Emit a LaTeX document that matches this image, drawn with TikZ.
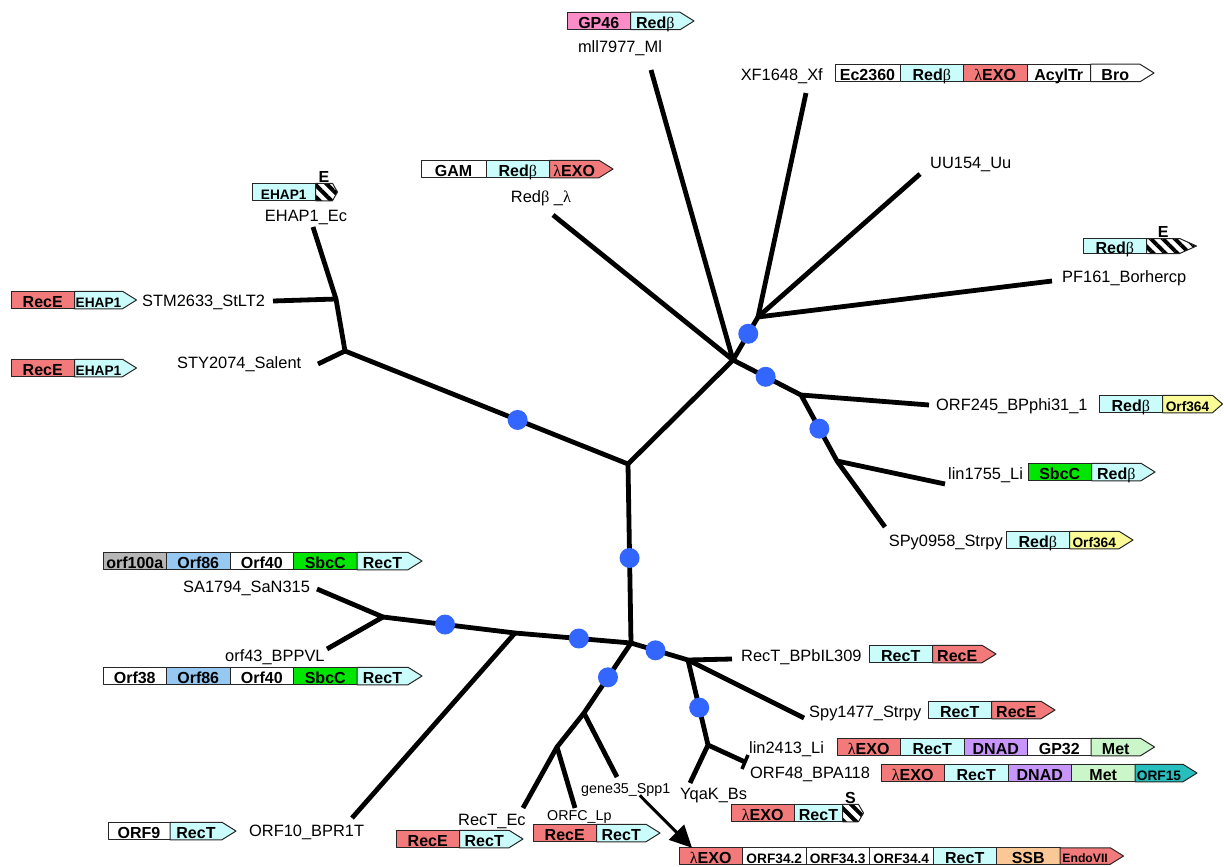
\documentclass[tikz,border=0pt]{standalone}
\usepackage{fontspec}
\setmainfont{Liberation Sans}
\newfontfamily\grk{Liberation Serif}
\usetikzlibrary{positioning,shapes.symbols,patterns.meta,arrows.meta}
\definecolor{cRed}{RGB}{243,122,122}
\definecolor{cCyan}{RGB}{202,252,252}
\definecolor{cPink}{RGB}{250,140,200}
\definecolor{cGreen}{RGB}{0,230,0}
\definecolor{cGrey}{RGB}{182,182,182}
\definecolor{cLtBlue}{RGB}{150,200,242}
\definecolor{cYellow}{RGB}{250,250,150}
\definecolor{cPurple}{RGB}{200,150,250}
\definecolor{cLtGreen}{RGB}{202,246,202}
\definecolor{cTeal}{RGB}{40,190,190}
\definecolor{cOrange}{RGB}{250,200,150}
\definecolor{cDot}{RGB}{51,102,255}
\newcommand{\rbeta}{{\grk\mdseries β}}
\newcommand{\rlambda}{{\grk\mdseries λ}}

\begin{document}
\begin{tikzpicture}[x=1pt,y=-1pt,line join=round,
  branch/.style={line width=4.8pt},
  dot/.style={circle,fill=cDot,minimum size=20pt,inner sep=0},
  leaf/.style={inner sep=0,text height=11.8pt,text depth=0pt,font=\fontsize{16.4}{18}\selectfont},
  leafsm/.style={leaf,text height=10.3pt,font=\fontsize{14.3}{16}\selectfont},
  seg/.style={draw=black!85,line width=1pt,minimum height=17.5pt,minimum width=63.5pt,inner sep=0,outer sep=0,text height=15.5pt,text depth=0pt,font=\bfseries\fontsize{16}{16}\selectfont},
  segsm/.style={text height=14pt,font=\bfseries\fontsize{13.7}{14}\selectfont},
  tip/.style={seg,signal,signal to=east,signal pointer angle=64},
  hatch/.style={tip,text height=0pt,fill=white,pattern={Lines[angle=-45,distance=8.5pt,line width=4pt]}},
  tag/.style={inner sep=0.5pt,font=\bfseries\fontsize{16}{16}\selectfont}]
\useasboundingbox (0,0) rectangle (1224,867);

\coordinate (j1) at (628,464);
\coordinate (j2) at (631,643);
\coordinate (j3) at (733,360);
\coordinate (j4) at (345,351);
\coordinate (j5) at (336,299);
\coordinate (j6) at (758,317);
\coordinate (j7) at (801,395);
\coordinate (j8) at (837,461);
\coordinate (j9) at (515,633);
\coordinate (j10) at (383,617);
\coordinate (j11) at (688,660);
\coordinate (j12) at (708,745);
\coordinate (j13) at (745,762);
\coordinate (j14) at (584,713);
\coordinate (j15) at (557,747);

\coordinate (lSTY) at (318,364);
\coordinate (lSTM) at (273,301);
\coordinate (lEHAP) at (313,227);
\coordinate (lRedl) at (553,215);
\coordinate (lmll) at (651,70);
\coordinate (lXF) at (806,93);
\coordinate (lUU) at (920,174);
\coordinate (lPF) at (1052,281);
\coordinate (lORF245) at (929,405);
\coordinate (llin1755) at (945,484);
\coordinate (lSPy0958) at (885,527);
\coordinate (lSA) at (317,589);
\coordinate (lorf43) at (327,649);
\coordinate (lORF10) at (352,818);
\coordinate (lRecTBP) at (732,659);
\coordinate (lSpy1477) at (804,718);
\coordinate (llin2413) at (748,755);
\coordinate (lORF48) at (742,769);
\coordinate (lYqaK) at (690,783);
\coordinate (lgene35) at (617,777);
\coordinate (lRecTEc) at (523,808);
\coordinate (lORFC) at (575,808);

\draw[branch] (lSTY) -- (j4) -- (j5) -- (lEHAP);
\draw[branch] (lSTM) -- (j5);
\draw[branch] (j4) -- node[dot,pos=0.61] (d1) {} (j1) -- node[dot,pos=0.525] (d2) {} (j2);
\draw[branch] (j1) -- (j3);
\draw[branch] (lRedl) -- (j3) -- (lmll);
\draw[branch] (j3) -- node[dot,pos=0.61] (d3) {} (j6);
\draw[branch] (lXF) -- (j6) -- (lPF);
\draw[branch] (lUU) -- (j6);
\draw[branch] (j3) -- node[dot,pos=0.48] (d4) {} (j7) -- (lORF245);
\draw[branch] (j7) -- node[dot,pos=0.51] (d5) {} (j8) -- (llin1755);
\draw[branch] (j8) -- (lSPy0958);
\draw[branch] (lSA) -- (j10) -- (lorf43);
\draw[branch] (j10) -- node[dot,pos=0.47] (d6) {} (j9) -- node[dot,pos=0.55] (d7) {} (j2);
\draw[branch] (lORF10) -- (j9);
\draw[branch] (j2) -- node[dot,pos=0.43] (d8) {} (j11) -- (lRecTBP);
\draw[branch] (j11) -- (lSpy1477);
\draw[branch] (j11) -- node[dot,pos=0.56] (d9) {} (j12) -- (lYqaK);
\draw[branch] (j12) -- (j13);
\draw[branch,line width=3.5pt] (llin2413) -- (lORF48);
\draw[branch] (j2) -- node[dot,pos=0.49] (d10) {} (j14) -- (lgene35);
\draw[branch] (j14) -- (j15) -- (lRecTEc);
\draw[branch] (j15) -- (lORFC);

\node[leaf] (t1) at (620,47) {mll7977\_Ml};
\node[leaf,anchor=east] (t2) at (823,75) {XF1648\_Xf};
\node[leaf,anchor=west] (t3) at (930,163) {UU154\_Uu};
\node[leaf,anchor=west] (t4) at (1062,277) {PF161\_Borhercp};
\node[leaf,anchor=west] (t5) at (936,405) {ORF245\_BPphi31\_1};
\node[leaf,anchor=west] (t6) at (948,474) {lin1755\_Li};
\node[leaf,anchor=east] (t7) at (1003,541) {SPy0958\_Strpy};
\node[leaf] (t8) at (541,197) {Red\rbeta\ \_\rlambda};
\node[leaf] (t9) at (306,216) {EHAP1\_Ec};
\node[leaf,anchor=west] (t10) at (142,301) {STM2633\_StLT2};
\node[leaf,anchor=west] (t11) at (177,363) {STY2074\_Salent};
\node[leaf,anchor=west] (t12) at (183,587) {SA1794\_SaN315};
\node[leaf,anchor=west] (t13) at (225,656) {orf43\_BPPVL};
\node[leaf,anchor=west] (t14) at (249,831) {ORF10\_BPR1T};
\node[leaf,anchor=west] (t15) at (458,820) {RecT\_Ec};
\node[leafsm,anchor=west] (t16) at (547,815) {ORFC\_Lp};
\node[leafsm,anchor=west] (t17) at (581,788) {gene35\_Spp1};
\node[leaf,anchor=west] (t18) at (680,794) {YqaK\_Bs};
\node[leaf,anchor=west] (t19) at (741,656) {RecT\_BPbIL309};
\node[leaf,anchor=west] (t20) at (809,712) {Spy1477\_Strpy};
\node[leaf,anchor=west] (t21) at (749,748) {lin2413\_Li};
\node[leaf,anchor=west] (t22) at (750,773) {ORF48\_BPA118};

\node[seg,fill=cPink,anchor=west] (g1a) at (567,21) {GP46};
\node[tip,fill=cCyan,right=0pt of g1a] (g1b) {Red\rbeta};

\node[seg,fill=white,minimum width=65pt,anchor=west] (g2a) at (421,169) {GAM};
\node[seg,fill=cCyan,right=0pt of g2a] (g2b) {Red\rbeta};
\node[tip,fill=cRed,right=0pt of g2b] (g2c) {\rlambda EXO};

\node[seg,fill=white,minimum width=65pt,anchor=west] (g3a) at (835,73) {Ec2360};
\node[seg,fill=cCyan,right=0pt of g3a] (g3b) {Red\rbeta};
\node[seg,fill=cRed,right=0pt of g3b] (g3c) {\rlambda EXO};
\node[seg,fill=white,right=0pt of g3c] (g3d) {AcylTr};
\node[tip,fill=white,right=0pt of g3d] (g3e) {Bro};

\node[seg,fill=cCyan,minimum height=15pt,text height=14pt,anchor=west] (g4a) at (1083,246) {Red\rbeta};
\node[hatch,minimum height=15pt,minimum width=50pt,signal pointer angle=48,right=0pt of g4a,
  label={[tag]above:E}] (g4b) {};

\node[seg,fill=cCyan,anchor=west] (g5a) at (1099,404) {Red\rbeta};
\node[tip,segsm,fill=cYellow,minimum width=60pt,signal pointer angle=82,right=0pt of g5a] (g5b) {Orf364};

\node[seg,fill=cGreen,anchor=west] (g6a) at (1028,472) {SbcC};
\node[tip,fill=cCyan,right=0pt of g6a] (g6b) {Red\rbeta};

\node[seg,fill=cCyan,anchor=west] (g7a) at (1006,540) {Red\rbeta};
\node[tip,segsm,fill=cYellow,right=0pt of g7a] (g7b) {Orf364};

\node[seg,segsm,fill=cCyan,anchor=west] (g8a) at (252,192) {EHAP1};
\node[hatch,minimum width=22pt,signal pointer angle=120,right=0pt of g8a,
  label={[tag]above:E}] (g8b) {};

\node[seg,fill=cRed,anchor=west] (g9a) at (11,300) {RecE};
\node[tip,segsm,fill=cCyan,minimum width=62pt,right=0pt of g9a] (g9b) {EHAP1};

\node[seg,fill=cRed,anchor=west] (g10a) at (11,368) {RecE};
\node[tip,segsm,fill=cCyan,minimum width=62pt,right=0pt of g10a] (g10b) {EHAP1};

\node[seg,fill=cGrey,anchor=west] (g11a) at (103,561) {orf100a};
\node[seg,fill=cLtBlue,right=0pt of g11a] (g11b) {Orf86};
\node[seg,fill=white,right=0pt of g11b] (g11c) {Orf40};
\node[seg,fill=cGreen,right=0pt of g11c] (g11d) {SbcC};
\node[tip,fill=cCyan,minimum width=65pt,right=0pt of g11d] (g11e) {RecT};

\node[seg,fill=white,anchor=west] (g12a) at (103,676) {Orf38};
\node[seg,fill=cLtBlue,right=0pt of g12a] (g12b) {Orf86};
\node[seg,fill=white,right=0pt of g12b] (g12c) {Orf40};
\node[seg,fill=cGreen,right=0pt of g12c] (g12d) {SbcC};
\node[tip,fill=cCyan,minimum width=65pt,right=0pt of g12d] (g12e) {RecT};

\node[seg,fill=white,minimum width=62pt,anchor=west] (g13a) at (108,831) {ORF9};
\node[tip,fill=cCyan,minimum width=66pt,right=0pt of g13a] (g13b) {RecT};

\node[seg,fill=cRed,anchor=west] (g14a) at (396,839) {RecE};
\node[tip,fill=cCyan,right=0pt of g14a] (g14b) {RecT};

\node[seg,fill=cRed,anchor=west] (g15a) at (533,833) {RecE};
\node[tip,fill=cCyan,right=0pt of g15a] (g15b) {RecT};

\node[seg,fill=cRed,anchor=west] (g16a) at (731,813) {\rlambda EXO};
\node[seg,fill=cCyan,minimum width=48pt,right=0pt of g16a] (g16b) {RecT};
\node[hatch,minimum width=21pt,signal pointer angle=120,right=0pt of g16b,
  label={[tag]above:S}] (g16c) {};

\node[seg,fill=cRed,minimum height=16.5pt,anchor=west] (g17a) at (679,856) {\rlambda EXO};
\node[seg,segsm,fill=white,minimum height=16.5pt,right=0pt of g17a] (g17b) {ORF34.2};
\node[seg,segsm,fill=white,minimum height=16.5pt,right=0pt of g17b] (g17c) {ORF34.3};
\node[seg,segsm,fill=white,minimum height=16.5pt,right=0pt of g17c] (g17d) {ORF34.4};
\node[seg,fill=cCyan,minimum height=16.5pt,right=0pt of g17d] (g17e) {RecT};
\node[seg,fill=cOrange,minimum height=16.5pt,right=0pt of g17e] (g17f) {SSB};
\node[tip,fill=cRed,minimum height=16.5pt,text height=12.5pt,font=\bfseries\fontsize{12.2}{13}\selectfont,right=0pt of g17f] (g17g) {EndoVII};

\node[seg,fill=cCyan,anchor=west] (g18a) at (869,654) {RecT};
\node[tip,fill=cRed,right=0pt of g18a] (g18b) {RecE};

\node[seg,fill=cCyan,anchor=west] (g19a) at (928,710) {RecT};
\node[tip,fill=cRed,right=0pt of g19a] (g19b) {RecE};

\node[seg,fill=cRed,anchor=west] (g20a) at (837,747) {\rlambda EXO};
\node[seg,fill=cCyan,right=0pt of g20a] (g20b) {RecT};
\node[seg,fill=cPurple,right=0pt of g20b] (g20c) {DNAD};
\node[seg,fill=white,right=0pt of g20c] (g20d) {GP32};
\node[tip,fill=cLtGreen,right=0pt of g20d] (g20e) {Met};

\node[seg,fill=cRed,anchor=west] (g21a) at (881,773) {\rlambda EXO};
\node[seg,fill=cCyan,right=0pt of g21a] (g21b) {RecT};
\node[seg,fill=cPurple,right=0pt of g21b] (g21c) {DNAD};
\node[seg,fill=cLtGreen,right=0pt of g21c] (g21d) {Met};
\node[tip,segsm,fill=cTeal,minimum width=62pt,right=0pt of g21d] (g21e) {ORF15};

\draw[line width=3pt,-{Triangle[length=22pt,width=21pt]}] ([xshift=14pt,yshift=-2pt]t17.south) -- ([xshift=13pt]g17a.north west);
\end{tikzpicture}
\end{document}
